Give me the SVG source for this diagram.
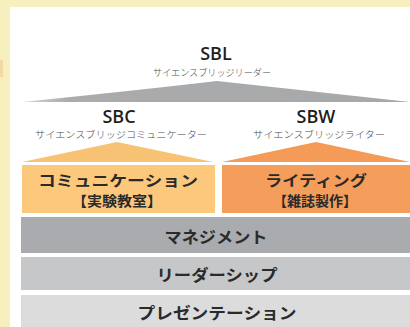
<svg xmlns="http://www.w3.org/2000/svg" width="410" height="327" viewBox="0 0 410 327">
<defs>
<style>
.ttl{font-family:"Open Sans","Noto Sans",sans-serif;font-weight:600;font-size:18px;fill:#1e1e1e;text-anchor:middle}
.sub{font-family:"Noto Sans CJK JP",sans-serif;font-weight:300;font-size:9.5px;fill:#4a4a4a;text-anchor:middle}
.lbl{font-family:"Noto Sans CJK JP",sans-serif;font-weight:700;font-size:16px;fill:#2a2a2a;text-anchor:middle}
.box1{font-family:"Noto Sans CJK JP",sans-serif;font-weight:700;font-size:15px;fill:#2a2a2a;text-anchor:middle}
.box2{font-family:"Noto Sans CJK JP",sans-serif;font-weight:700;font-size:14px;fill:#2a2a2a;text-anchor:middle}
</style>
<linearGradient id="gfade" x1="22" y1="0" x2="410" y2="0" gradientUnits="userSpaceOnUse">
<stop offset="0" stop-color="#d6d7d9"/>
<stop offset="0.12" stop-color="#a9abad"/>
<stop offset="1" stop-color="#a6a8aa"/>
</linearGradient>
</defs>
<rect x="0" y="0" width="410" height="327" fill="#f8efbf"/>
<rect x="0" y="60" width="3" height="17" fill="#f3d9a2"/>
<rect x="10" y="7" width="400" height="320" fill="#ffffff"/>

<g id="sbl">
<path d="M22,102 Q140,90 217,81 Q300,90 410,102 Z" fill="url(#gfade)"/>
<text class="ttl" x="216" y="60">SBL</text>
<text class="sub" x="212" y="76" textLength="118" lengthAdjust="spacingAndGlyphs">サイエンスブリッジリーダー</text>
</g>

<g id="sbc">
<path d="M22,162 L117,142 L213,162 Z" fill="#f8c275"/>
<rect x="22" y="165" width="193" height="48" fill="#fcc87c"/>
<text class="ttl" x="119" y="123">SBC</text>
<text class="sub" x="121" y="138" textLength="172" lengthAdjust="spacingAndGlyphs">サイエンスブリッジコミュニケーター</text>
<text class="box1" x="118" y="186" textLength="160" lengthAdjust="spacingAndGlyphs">コミュニケーション</text>
<text class="box2" x="117" y="206" textLength="90" lengthAdjust="spacingAndGlyphs">【実験教室】</text>
</g>

<g id="sbw">
<path d="M222,162 L316,142 L410,162 Z" fill="#f39b57"/>
<rect x="222" y="165" width="188" height="48" fill="#f59e5c"/>
<text class="ttl" x="316" y="123">SBW</text>
<text class="sub" x="319" y="138" textLength="132" lengthAdjust="spacingAndGlyphs">サイエンスブリッジライター</text>
<text class="box1" x="316" y="186" textLength="102" lengthAdjust="spacingAndGlyphs">ライティング</text>
<text class="box2" x="315" y="206" textLength="84" lengthAdjust="spacingAndGlyphs">【雑誌製作】</text>
</g>

<g id="management">
<rect x="21" y="217" width="389" height="36" fill="#a9abae"/>
<text class="lbl" x="216" y="243" textLength="103" lengthAdjust="spacingAndGlyphs">マネジメント</text>
</g>

<g id="leadership">
<rect x="21" y="257" width="389" height="33" fill="#c5c7c9"/>
<text class="lbl" x="217" y="281" textLength="121" lengthAdjust="spacingAndGlyphs">リーダーシップ</text>
</g>

<g id="presentation">
<rect x="21" y="295" width="389" height="32" fill="#dcdcdc"/>
<text class="lbl" x="217" y="319" textLength="159" lengthAdjust="spacingAndGlyphs">プレゼンテーション</text>
</g>

<g id="connectors"></g>
</svg>
